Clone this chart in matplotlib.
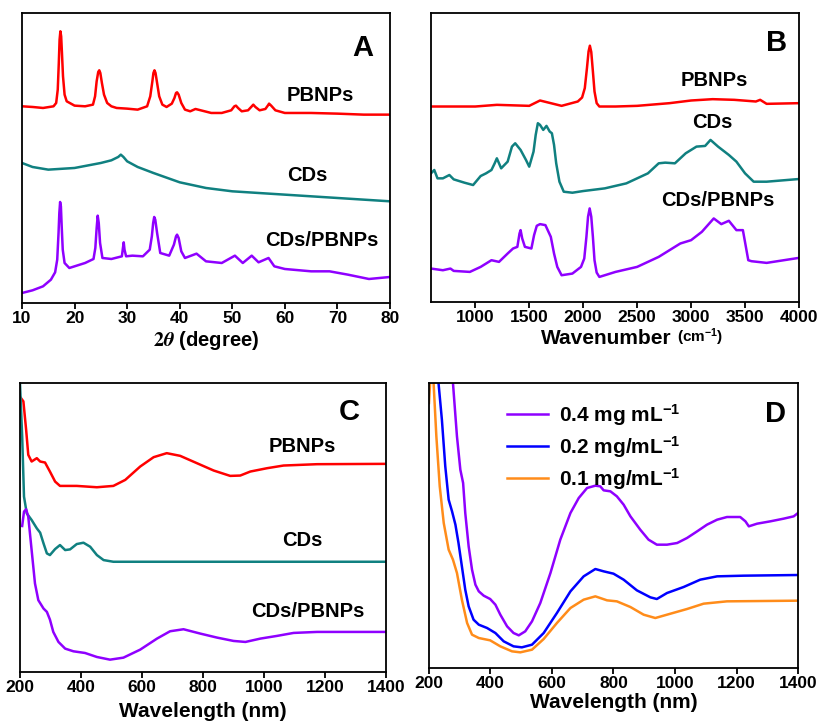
import matplotlib.pyplot as plt
import numpy as np

plt.rcParams['font.family'] = ['Liberation Sans', 'DejaVu Sans']
plt.rcParams['font.weight'] = 'bold'
plt.rcParams['mathtext.fontset'] = 'custom'
plt.rcParams['mathtext.rm'] = 'Liberation Sans:bold'
plt.rcParams['mathtext.bf'] = 'Liberation Sans:bold'
plt.rcParams['mathtext.it'] = 'Liberation Sans:italic:bold'

# ---- panel A: XRD (2theta, intensity a.u.)
xrd_pb_x = [10, 12, 14, 16, 16.5, 16.8, 17.0, 17.15, 17.3, 17.45, 17.6, 17.8, 18.1, 18.5, 20, 22,
            23.5, 23.9, 24.2, 24.5, 24.7, 24.9, 25.2, 25.6, 26.2, 27, 28, 30, 32, 33.8, 34.4,
            34.8, 35.0, 35.2, 35.4, 35.7, 36.1, 36.7, 37.5, 38.5, 39.0, 39.3, 39.5, 39.8, 40.3,
            41, 42, 43, 44, 46, 48, 49.8, 50.4, 50.7, 51.1, 51.8, 53, 53.6, 54, 54.4, 55.2, 56.3,
            56.8, 57, 57.4, 58.2, 60, 65, 70, 75, 80]
xrd_pb_y = [590, 588, 585, 590, 600, 640, 720, 790, 815, 800, 750, 680, 625, 605, 592, 590,
            595, 620, 665, 693, 698, 690, 660, 625, 600, 590, 585, 583, 580, 590, 620,
            665, 690, 698, 690, 660, 620, 595, 588, 598, 615, 630, 632, 625, 600,
            580, 575, 582, 578, 570, 570, 578, 590, 592, 585, 575, 578, 588, 595, 588, 578, 582,
            593, 598, 592, 578, 570, 570, 568, 565, 565]
xrd_cd_x = [10, 12, 15, 20, 25, 27, 28.3, 28.8, 29.3, 30, 32, 35, 40, 45, 50, 55, 60, 70, 80]
xrd_cd_y = [420, 408, 400, 405, 420, 428, 438, 445, 438, 425, 408, 390, 362, 345, 335, 330, 325,
            315, 305]
xrd_cp_x = [10, 12, 14, 15.5, 16.3, 16.7, 16.95, 17.1, 17.25, 17.4, 17.55, 17.75, 18.1, 19, 20,
            22, 23.6, 23.95, 24.2, 24.4, 24.6, 24.85, 25.3, 27, 29, 29.2, 29.35, 29.5, 29.8, 31,
            33, 34.3, 34.7, 34.95, 35.15, 35.35, 35.7, 36.3, 38, 38.9, 39.3, 39.5, 39.8, 40.3,
            41, 43.2, 45, 48, 50.5, 52, 53.7, 55, 56.9, 58, 60, 65, 68.5, 72, 76, 80]
xrd_cp_y = [30, 38, 50, 70, 92, 130, 210, 270, 303, 290, 230, 160, 120, 105, 110,
            120, 132, 165, 225, 262, 240, 180, 135, 132, 140, 165, 182, 160, 140, 142,
            140, 160, 200, 240, 258, 250, 210, 150, 142, 175, 200, 205, 195, 155,
            135, 148, 125, 120, 142, 120, 142, 122, 135, 110, 102, 95, 95, 85, 72, 78]

# ---- panel B: FTIR (wavenumber, transmittance a.u.)
ir_pb_x = [590, 1000, 1200, 1500, 1600, 1700, 1800, 1950, 1990, 2015, 2035, 2050, 2062, 2075,
           2090, 2105, 2125, 2150, 2300, 2500, 2800, 3000, 3200, 3400, 3600, 3640, 3700, 4000]
ir_pb_y = [585, 585, 590, 587, 603, 595, 587, 600, 612, 640, 700, 750, 767, 748, 690, 630, 595,
           585, 585, 587, 595, 603, 607, 605, 600, 605, 593, 595]
ir_cd_x = [590, 620, 650, 700, 760, 800, 900, 980, 1050, 1100, 1150, 1180, 1200, 1240, 1300,
           1340, 1370, 1420, 1470, 1500, 1540, 1560, 1580, 1600, 1630, 1660, 1690, 1710, 1730,
           1750, 1780, 1820, 1900, 2000, 2200, 2400, 2600, 2700, 2760, 2850, 2950, 3050, 3130,
           3180, 3250, 3350, 3420, 3500, 3580, 3700, 4000]
ir_cd_y = [385, 395, 370, 370, 380, 367, 357, 350, 377, 385, 395, 415, 430, 400, 420,
           465, 475, 455, 425, 405, 450, 500, 535, 530, 515, 527, 510, 505, 470,
           415, 360, 330, 327, 332, 340, 355, 385, 415, 417, 415, 445, 465, 467,
           485, 465, 440, 420, 385, 360, 360, 368]
ir_cp_x = [590, 700, 770, 800, 950, 1050, 1150, 1220, 1300, 1350, 1390, 1410, 1420, 1435, 1460,
           1520, 1545, 1570, 1600, 1650, 1700, 1730, 1760, 1800, 1900, 1980, 2010, 2030, 2045,
           2060, 2075, 2090, 2105, 2125, 2150, 2300, 2500, 2700, 2900, 3000, 3100, 3210, 3280,
           3350, 3420, 3480, 3530, 3560, 3700, 4000]
ir_cp_y = [100, 95, 100, 93, 90, 105, 125, 120, 145, 160, 165, 205, 215, 190, 165,
           160, 200, 228, 233, 230, 195, 145, 105, 80, 85, 105, 130, 195, 255,
           280, 255, 195, 125, 88, 75, 90, 105, 135, 175, 185, 210, 250, 233,
           243, 215, 215, 125, 122, 117, 132]

# ---- panel C: UV-vis-NIR (wavelength, absorbance a.u.)
uv_pb_x = [203, 211, 220, 227, 238, 255, 266, 282, 298, 315, 331, 386, 452, 506, 545, 594, 638,
           681, 725, 780, 835, 889, 922, 955, 1010, 1064, 1174, 1400]
uv_pb_y = [820, 810, 725, 650, 630, 640, 630, 627, 600, 570, 557, 557, 553, 557, 575, 615, 643,
           655, 647, 625, 603, 587, 588, 600, 610, 618, 622, 623]
uv_cd_x = [200, 207, 213, 222, 238, 255, 266, 277, 288, 298, 315, 331, 348, 364, 386, 408, 430,
           452, 474, 506, 1400]
uv_cd_y = [860, 705, 525, 475, 455, 430, 417, 385, 355, 350, 368, 380, 365, 367, 383, 387, 375,
           350, 335, 330, 330]
uv_cp_x = [207, 213, 220, 227, 238, 249, 260, 277, 288, 298, 309, 326, 348, 375, 413, 452, 495,
           539, 594, 649, 692, 736, 791, 846, 900, 939, 988, 1042, 1097, 1174, 1400]
uv_cp_y = [437, 480, 487, 465, 365, 265, 215, 190, 180, 157, 120, 90, 70, 62, 57, 45, 37,
           43, 67, 100, 122, 128, 115, 103, 93, 90, 100, 108, 117, 120, 120]

# ---- panel D: concentration series
d_04_x = [270, 278, 291, 302, 311, 318, 329, 340, 351, 362, 378, 399, 416, 432, 454, 475, 492,
          513, 535, 562, 595, 627, 660, 687, 714, 741, 757, 768, 790, 811, 833, 855, 887, 914,
          941, 974, 1007, 1039, 1072, 1104, 1137, 1169, 1212, 1229, 1240, 1267, 1310, 1353,
          1386, 1400]
d_04_y = [920, 855, 695, 595, 555, 465, 365, 295, 250, 230, 217, 207, 190, 160, 125, 105, 98,
          110, 140, 195, 285, 385, 465, 510, 540, 547, 545, 533, 530, 515, 490, 455, 415, 385,
          370, 370, 375, 390, 410, 430, 445, 453, 453, 440, 425, 433, 440, 448,
          455, 465]
d_02_x = [225, 231, 242, 253, 264, 275, 286, 296, 307, 318, 329, 345, 362, 389, 416, 443, 475,
          502, 535, 573, 616, 660, 703, 741, 768, 800, 833, 876, 920, 941, 974, 1028, 1082,
          1137, 1223, 1400]
d_02_y = [920, 855, 745, 605, 505, 470, 430, 375, 305, 235, 185, 145, 130, 120, 105, 80, 65,
          62, 70, 105, 165, 230, 275, 297, 290, 283, 265, 233, 212, 207, 225, 243, 265,
          275, 277, 279]
d_01_x = [200, 204, 208, 212, 215, 224, 235, 248, 264, 278, 291, 307, 324, 340, 362, 399, 432,
          470, 497, 535, 573, 616, 660, 703, 741, 779, 811, 855, 898, 936, 974, 1039, 1093,
          1169, 1400]
d_01_y = [795, 860, 920, 920, 855, 695, 545, 435, 355, 325, 285, 205, 135, 100, 90, 83, 65,
          50, 47, 55, 87, 135, 180, 205, 215, 203, 200, 183, 160, 150, 160, 177, 193,
          200, 202]
d_labels = ['0.4 mg mL$^{-1}$', '0.2 mg/mL$^{-1}$', '0.1 mg/mL$^{-1}$']

RED, TEAL, PURPLE = '#ff0000', '#108080', '#8f00ff'
BLUE, ORANGE = '#0000ff', '#ff8c1a'
LW = 1.8

fig = plt.figure(figsize=(8.21, 7.28), dpi=100)
axA = fig.add_axes([0.0268, 0.5838, 0.4482, 0.3984])
axB = fig.add_axes([0.5250, 0.5852, 0.4482, 0.3970])
axC = fig.add_axes([0.0244, 0.0769, 0.4458, 0.3970])
axD = fig.add_axes([0.5225, 0.0824, 0.4495, 0.3915])

def tag(ax, x, y, s, size=14.5):
    ax.text(x, y, s, transform=ax.transAxes, ha='center', va='center',
            fontsize=size, fontweight='bold')

# A
axA.plot(xrd_pb_x, xrd_pb_y, color=RED, lw=LW)
axA.plot(xrd_cd_x, xrd_cd_y, color=TEAL, lw=LW)
axA.plot(xrd_cp_x, xrd_cp_y, color=PURPLE, lw=LW)
axA.set_xlim(10, 80)
axA.set_ylim(0, 870)
axA.set_xticks(range(10, 81, 10))
axA.set_xlabel(r'$2\theta$ (degree)', fontsize=14.5, fontweight='bold', labelpad=2,
               math_fontfamily='stix')
tag(axA, 0.81, 0.715, 'PBNPs')
tag(axA, 0.775, 0.44, 'CDs')
tag(axA, 0.815, 0.215, 'CDs/PBNPs')
tag(axA, 0.925, 0.88, 'A', 21)

# B
axB.plot(ir_pb_x, ir_pb_y, color=RED, lw=LW)
axB.plot(ir_cd_x, ir_cd_y, color=TEAL, lw=LW)
axB.plot(ir_cp_x, ir_cp_y, color=PURPLE, lw=LW)
axB.set_xlim(590, 4000)
axB.set_ylim(0, 865)
axB.set_xticks(range(1000, 4001, 500))
tag(axB, 0.77, 0.765, 'PBNPs')
tag(axB, 0.765, 0.62, 'CDs')
tag(axB, 0.78, 0.35, 'CDs/PBNPs')
tag(axB, 0.94, 0.895, 'B', 21)
axB.text(0.476, -0.125, 'Wavenumber', transform=axB.transAxes, ha='center', va='center',
         fontsize=15, fontweight='bold')
axB.text(0.668, -0.122, '(cm$^{-1}$)', transform=axB.transAxes, ha='left', va='center',
         fontsize=11, fontweight='bold')

# C
axC.plot(uv_pb_x, uv_pb_y, color=RED, lw=LW)
axC.plot(uv_cd_x, uv_cd_y, color=TEAL, lw=LW)
axC.plot(uv_cp_x, uv_cp_y, color=PURPLE, lw=LW)
axC.set_xlim(200, 1400)
axC.set_ylim(0, 865)
axC.set_xticks(range(200, 1401, 200))
axC.set_xlabel('Wavelength (nm)', fontsize=15, fontweight='bold', labelpad=5)
tag(axC, 0.77, 0.78, 'PBNPs')
tag(axC, 0.77, 0.455, 'CDs')
tag(axC, 0.785, 0.21, 'CDs/PBNPs')
tag(axC, 0.9, 0.9, 'C', 21)

# D
axD.plot(d_04_x, d_04_y, color=PURPLE, lw=LW, label=d_labels[0])
axD.plot(d_02_x, d_02_y, color=BLUE, lw=LW, label=d_labels[1])
axD.plot(d_01_x, d_01_y, color=ORANGE, lw=LW, label=d_labels[2])
axD.set_xlim(200, 1400)
axD.set_ylim(0, 855)
axD.set_xticks(range(200, 1401, 200))
axD.set_xlabel('Wavelength (nm)', fontsize=15, fontweight='bold', labelpad=1)
leg = axD.legend(loc='upper left', bbox_to_anchor=(0.16, 1.0), frameon=False, fontsize=15,
                 handlelength=2.0, handletextpad=0.5, labelspacing=0.3)
for t in leg.get_texts():
    t.set_fontweight('bold')
tag(axD, 0.94, 0.89, 'D', 21)

for ax in (axA, axB, axC, axD):
    for s in ax.spines.values():
        s.set_linewidth(1.3)
    ax.set_yticks([])
    ax.tick_params(axis='x', direction='out', length=4, width=1.3, labelsize=12.5, pad=2)
    for t in ax.get_xticklabels():
        t.set_fontweight('bold')

fig.savefig('out.png', dpi=100)
